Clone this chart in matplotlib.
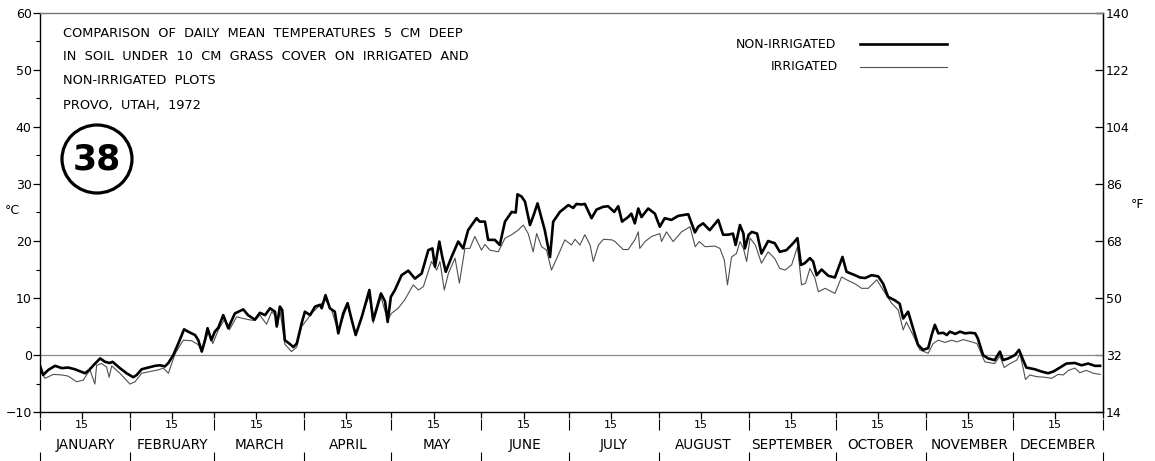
import matplotlib
matplotlib.use("Agg")
import matplotlib.pyplot as plt
from matplotlib.patches import Ellipse
from matplotlib.lines import Line2D

# day of year (1972) and daily mean soil temperature, deg C
dry_days = [0, 1.1, 2.9, 5.2, 7.5, 9.7, 12, 15.5, 17, 18.4, 20.7, 22.4, 24, 25, 27.5, 29.8,
            32.1, 33.3, 35, 37.3, 39.6, 41.3, 43, 44.2, 45.9, 47.6, 49.6, 51, 53.4, 54.5,
            55.7, 56.8, 57.7, 59, 60.2, 61.4, 63.1, 64.8, 67.1, 70, 71.6, 74, 75.7, 77.5,
            79.2, 80.9, 81.5, 82.6, 83.4, 84.3, 86.1, 87.2, 88.4, 90.1, 91.2, 93, 94.7,
            96.4, 97, 98.3, 99.8, 101.5, 102.7, 104.4, 105.9, 107.4, 108.7, 110.8, 113.4,
            114.7, 116.4, 117.4, 118.8, 119.7, 120.8, 122.2, 124.5, 126.8, 129.1, 131.4,
            133.7, 135.1, 136, 137.5, 138.5, 139.7, 141.7, 144, 145.7, 147.4, 150.3, 151.4,
            153.2, 154.3, 156.6, 158.3, 160.1, 162.4, 163.8, 164.4, 165.8, 167, 168.7,
            169.8, 171.3, 172.7, 173.8, 175.6, 176.7, 179, 181.9, 183.6, 184.7, 186.4,
            187.6, 189.9, 191.6, 193.9, 195.6, 197.7, 199.1, 200.4, 202.5, 203.6, 204.8,
            206, 207.1, 209.4, 211.7, 213.4, 215.1, 217.4, 219.7, 223.2, 225.5, 226.6,
            228.3, 230.6, 233.5, 235.2, 236.9, 238.6, 239.5, 241, 242.2, 242.7, 244, 245.1,
            246.9, 248.4, 250.7, 253, 254.7, 257, 259.3, 260.8, 262, 263.3, 265.1, 266.2,
            267.4, 269.1, 271.4, 273.7, 276.3, 277.7, 280.6, 282.3, 284.1, 286.3, 288.6,
            290.3, 292, 294.3, 296, 297.2, 298.9, 300.6, 302.3, 304, 305.8, 307, 308.1,
            309.3, 311, 312.2, 313.3, 315.1, 316.8, 318.5, 320.3, 322, 322.9, 324.7, 326.4,
            328.7, 330.5, 331.6, 333.4, 335.7, 337.1, 338.5, 339.6, 342.5, 344.8, 347.1,
            348.9, 351.2, 353.4, 356.3, 358.6, 360.9, 363.2, 365]
dry_temp = [-1.9, -3.5, -2.6, -1.9, -2.3, -2.2, -2.5, -3.2, -2.6, -1.8, -0.6, -1.2, -1.4, -1.2,
            -2.3, -3.2, -3.9, -3.5, -2.5, -2.2, -1.9, -1.8, -2.0, -1.4, 0, 2.0, 4.5, 4.1, 3.5,
            2.6, 0.6, 2.6, 4.7, 2.6, 4.1, 4.8, 7.0, 4.7, 7.3, 8.0, 7.0, 6.2, 7.4, 7.0, 8.2,
            7.6, 5.0, 8.5, 7.9, 2.6, 1.9, 1.4, 2.0, 5.6, 7.6, 7.0, 8.5, 8.8, 8.2, 10.5, 8.2,
            7.6, 3.8, 7.3, 9.1, 6.0, 3.5, 6.7, 11.4, 6.1, 9.1, 10.8, 9.4, 5.8, 10.2, 11.4,
            14.0, 14.8, 13.4, 14.3, 18.4, 18.7, 15.5, 19.9, 17.2, 14.6, 17.2, 19.9, 18.7,
            21.9, 24.0, 23.4, 23.4, 20.2, 20.2, 19.3, 23.4, 25.1, 25.0, 28.2, 27.8, 26.9,
            22.8, 24.3, 26.6, 24.0, 21.9, 17.2, 23.4, 25.1, 26.3, 25.8, 26.5, 26.4, 26.5,
            24.0, 25.5, 26.0, 26.1, 25.1, 26.1, 23.4, 24.2, 24.8, 23.1, 25.7, 24.2, 25.7,
            24.8, 22.5, 24.0, 23.7, 24.4, 24.7, 21.5, 22.5, 23.1, 21.9, 23.7, 21.1, 21.1,
            21.3, 19.3, 22.8, 21.3, 18.7, 21.1, 21.6, 21.3, 17.8, 20.0, 19.6, 18.1, 18.4,
            19.6, 20.5, 15.8, 16.1, 17.0, 16.4, 14.0, 15.0, 13.9, 13.6, 17.2, 14.6, 14.0,
            13.6, 13.5, 14.0, 13.8, 12.5, 10.2, 9.6, 9.0, 6.4, 7.6, 4.7, 1.8, 0.9, 1.2, 3.5,
            5.3, 3.8, 3.9, 3.5, 4.1, 3.7, 4.1, 3.8, 3.9, 3.8, 2.9, 0, -0.6, -0.9, 0.6, -0.9,
            -0.6, 0, 0.9, -0.9, -2.2, -2.5, -2.9, -3.2, -2.9, -2.2, -1.5, -1.4, -1.8, -1.5,
            -1.9, -1.9]

wet_days = [0, 1.7, 4.6, 7.5, 9.7, 12.6, 14.9, 17.2, 18.9, 19.5, 21.2, 22.9, 23.8, 24.7, 27.5,
            31, 32.7, 35, 37.9, 40.8, 42.5, 44.2, 46.5, 49.3, 52.2, 54.5, 55.7, 58, 59.5,
            61.4, 63.7, 65.2, 67.7, 70, 72.9, 74, 75.7, 78, 79.8, 80.9, 81.9, 82.6, 84.3,
            86.6, 88.4, 90.1, 91.8, 93.5, 95.3, 98.3, 100.4, 102.7, 105.9, 108.7, 113.4,
            114.7, 117.4, 119.7, 121, 123.3, 125.6, 128.5, 130.3, 132, 134.8, 136.6, 137.7,
            139.2, 140.6, 142.9, 144.4, 146.3, 148, 149.7, 152, 153.2, 154.9, 157.8, 160.1,
            162.4, 164.6, 166.4, 168.1, 169.8, 171, 172.7, 174.4, 176.1, 178.4, 180.7, 183,
            184.2, 185.9, 187.6, 189.4, 190.5, 192.3, 194, 196.9, 198, 200.8, 202.5, 204.8,
            206, 206.5, 208.3, 210.6, 213.4, 214, 215.7, 218, 220.9, 223.8, 225.6, 227, 229,
            232.4, 234.1, 235.6, 236.7, 238.1, 239.8, 241, 242.2, 243.3, 244.5, 246.3,
            248.4, 250.7, 253, 254.7, 256.5, 258.8, 260.8, 262.2, 263.6, 265.1, 266.8, 268,
            270.3, 273.7, 276, 277.7, 280.6, 282.9, 285.2, 288.1, 290.3, 293.2, 295.5,
            297.2, 298.3, 300.6, 302.9, 305.8, 307.5, 309.3, 311.6, 313.9, 315.6, 317.9,
            320.8, 322.6, 325.3, 328.7, 330.5, 332, 334, 336.3, 337.4, 338.5, 339.3, 340.8,
            343.1, 346, 348.3, 350.6, 352.3, 354.1, 356.3, 358, 360.3, 362.6, 365]
wet_temp = [-2.6, -4.1, -3.4, -3.5, -3.7, -4.7, -4.4, -2.6, -5.1, -1.8, -1.5, -2.1, -3.9, -1.9,
            -3.2, -5.1, -4.7, -3.2, -2.9, -2.6, -2.3, -3.2, 0.2, 2.6, 2.5, 1.8, 0.6, 4.1, 2.0,
            4.4, 6.4, 4.4, 6.7, 6.4, 6.1, 6.1, 7.0, 5.4, 7.6, 7.0, 5.3, 7.9, 1.9, 0.6, 1.4,
            5.0, 6.1, 7.3, 8.2, 9.7, 7.9, 4.1, 8.8, 3.8, 10.5, 5.6, 10.2, 6.1, 7.3, 8.2, 9.7,
            12.3, 11.4, 12.0, 16.4, 14.9, 16.4, 11.4, 14.3, 17.0, 12.6, 18.7, 18.7, 20.8,
            18.4, 19.4, 18.4, 18.1, 20.5, 21.1, 21.9, 22.8, 21.3, 18.1, 21.3, 19.0, 18.4,
            14.9, 17.5, 20.2, 19.3, 20.3, 19.3, 21.1, 19.3, 16.4, 19.3, 20.3, 20.2, 19.9,
            18.5, 18.5, 20.2, 21.6, 18.7, 19.9, 20.8, 21.3, 19.9, 21.6, 19.9, 21.6, 22.5,
            19.0, 19.9, 19.0, 19.1, 18.7, 16.7, 12.3, 17.2, 17.8, 19.9, 18.7, 16.4, 20.5,
            19.3, 16.1, 18.1, 16.9, 15.2, 14.9, 15.8, 19.0, 12.3, 12.6, 15.2, 13.5, 11.1,
            11.7, 10.8, 13.7, 13.2, 12.5, 11.7, 11.7, 13.2, 11.4, 9.1, 7.9, 4.4, 5.8, 3.5,
            0.9, 0.3, 2.0, 2.6, 2.2, 2.6, 2.3, 2.7, 2.3, 2.0, -1.2, -1.5, -0.2, -2.2, -1.5,
            -0.9, 0.2, -2.3, -4.3, -3.5, -3.8, -3.9, -4.1, -3.4, -3.5, -2.7, -2.3, -3.1,
            -2.7, -3.2, -3.4]

months = ['JANUARY', 'FEBRUARY', 'MARCH', 'APRIL', 'MAY', 'JUNE', 'JULY', 'AUGUST',
          'SEPTEMBER', 'OCTOBER', 'NOVEMBER', 'DECEMBER']
month_len = [31, 29, 31, 30, 31, 30, 31, 31, 30, 31, 30, 31]

title_lines = ['COMPARISON  OF  DAILY  MEAN  TEMPERATURES  5  CM  DEEP',
               'IN  SOIL  UNDER  10  CM  GRASS  COVER  ON  IRRIGATED  AND',
               'NON-IRRIGATED  PLOTS',
               'PROVO,  UTAH,  1972']

plt.rcParams['font.family'] = ['DejaVu Sans']

fig = plt.figure(figsize=(11.55, 4.61), dpi=100)
ax = fig.add_axes([40 / 1155, 49 / 461, 1063 / 1155, 399 / 461])

ax.axhline(0, color='#8a8a8a', lw=0.9, zorder=1)
ax.plot(wet_days, wet_temp, color='#505050', lw=0.8, zorder=2)
ax.plot(dry_days, dry_temp, color='black', lw=1.9, zorder=3)

ax.set_xlim(0, 366)
ax.set_ylim(-10, 60)

# month boundaries and mid-month ticks
starts = [sum(month_len[:i]) for i in range(12)]
bounds = starts + [366]
mids15 = [s + 14.5 for s in starts]
ax.set_xticks(mids15)
ax.set_xticklabels(['15'] * 12, fontsize=8)
ax.set_xticks(bounds, minor=True)
ax.tick_params(axis='x', which='major', direction='out', length=5, width=0.9, pad=1)
ax.tick_params(axis='x', which='minor', direction='out', length=4, width=0.9)

xt = ax.get_xaxis_transform()
ax.vlines(bounds, -0.045, -0.018, transform=xt, colors='black', lw=0.8, clip_on=False)
ax.vlines(bounds, -0.125, -0.1, transform=xt, colors='black', lw=0.8, clip_on=False)
for i, name in enumerate(months):
    ax.text((bounds[i] + bounds[i + 1]) / 2, -0.082, name, transform=xt, ha='center',
            va='center', fontsize=9.8)

ax.set_yticks(range(-10, 61, 10))
ax.set_yticks(range(-5, 60, 10), minor=True)
ax.tick_params(axis='y', which='major', direction='out', length=5, width=0.9, pad=1,
               labelsize=9)
ax.tick_params(axis='y', which='minor', direction='out', length=3, width=0.8)

sec = ax.secondary_yaxis('right', functions=(lambda c: c * 9 / 5 + 32,
                                             lambda f: (f - 32) * 5 / 9))
sec.set_yticks(range(14, 141, 18))
sec.tick_params(direction='in', length=6, width=0.9, pad=2, labelsize=9)

for s in ax.spines.values():
    s.set_linewidth(1.0)
ax.spines['top'].set_color('#777777')

fig.text(12 / 1155, 1 - 210 / 461, '°C', fontsize=9, ha='center', va='center')
fig.text(1138 / 1155, 1 - 205 / 461, '°F', fontsize=9, ha='center', va='center')

for i, line in enumerate(title_lines):
    yy = [33, 57, 81, 106][i]
    fig.text(63 / 1155, 1 - yy / 461, line, fontsize=9.3, ha='left', va='center')

# plate number
fig.add_artist(Ellipse((97 / 1155, 1 - 159 / 461), 70 / 1155, 68 / 461,
                       transform=fig.transFigure, fill=False, lw=2.3, ec='black'))
fig.text(97 / 1155, 1 - 159 / 461, '38', fontsize=25, fontweight='bold',
         family=['Liberation Sans Narrow', 'DejaVu Sans'], ha='center', va='center')

# legend
fig.text(836 / 1155, 1 - 44 / 461, 'NON-IRRIGATED', fontsize=9, ha='right', va='center')
fig.text(838 / 1155, 1 - 67 / 461, 'IRRIGATED', fontsize=9, ha='right', va='center')
fig.add_artist(Line2D([860 / 1155, 947 / 1155], [1 - 44 / 461, 1 - 44 / 461],
                      transform=fig.transFigure, color='black', lw=1.9))
fig.add_artist(Line2D([860 / 1155, 947 / 1155], [1 - 67 / 461, 1 - 67 / 461],
                      transform=fig.transFigure, color='#505050', lw=0.8))

fig.savefig('out.png', dpi=100)
